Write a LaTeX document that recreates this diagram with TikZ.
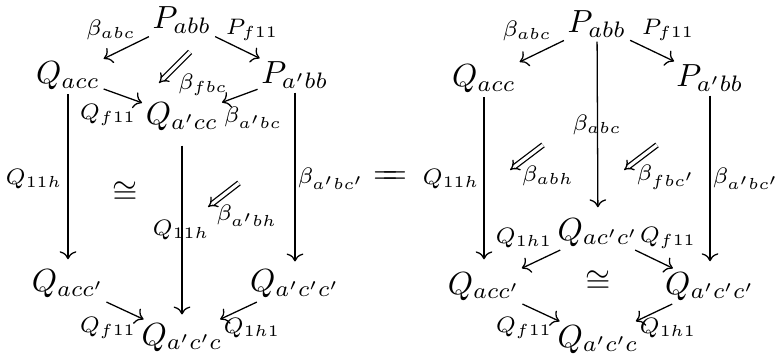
\documentclass[tikz,border=0pt]{standalone}
\usetikzlibrary{arrows.meta}
\begin{document}
\begin{tikzpicture}[x=0.3125pt,y=-0.3125pt,
  obj/.style={anchor=base,inner sep=1pt},
  lab/.style={inner sep=0pt},
  arr/.style={->,line width=0.4pt},
  cell/.style={double,double distance=1pt,-{Implies},line width=0.4pt}]
\useasboundingbox (0,0) rectangle (775,354);
% ---------- left diagram ----------
\node[obj] (Pabb)   at (182,29)  {$P_{abb}$};
\node[obj] (Qacc)   at (68,84)   {$Q_{acc}$};
\node[obj] (Papbb)  at (295,84)  {$P_{a'bb}$};
\node[obj] (Qapcc)  at (182,125) {$Q_{a'cc}$};
\node[obj] (Qaccp)  at (68,292)  {$Q_{acc'}$};
\node[obj] (Qapcpcp) at (295,292) {$Q_{a'c'c'}$};
\node[obj] (Qapcpc) at (182,345) {$Q_{a'c'c}$};

\draw[arr] (Pabb) -- (Qacc);
\draw[arr] (Pabb) -- (Papbb);
\draw[arr] (Qacc) -- (Qapcc);
\draw[arr] (Papbb) -- (Qapcc);
\draw[arr,shorten >=2.2pt] (Qacc) -- (Qaccp);
\draw[arr,shorten <=3.3pt,shorten >=1.5pt] (Qapcc) -- (Qapcpc);
\draw[arr,shorten >=1.5pt] (Papbb) -- (Qapcpcp);
\draw[arr] (Qaccp) -- (Qapcpc);
\draw[arr] (Qapcpcp) -- (Qapcpc);

\coordinate (c1s) at (190,52);  \coordinate (c1e) at (159,83);
\coordinate (c2s) at (239,183); \coordinate (c2e) at (208,207);
\draw[cell] (c1s) -- (c1e);
\draw[cell] (c2s) -- (c2e);

\node[lab] (l1)  at (111,30)  {$\scriptstyle\beta_{abc}$};
\node[lab] (l2)  at (252,30)  {$\scriptstyle P_{f11}$};
\node[lab] (l3)  at (203,85)  {$\scriptstyle\beta_{fbc}$};
\node[lab] (l4)  at (108,115) {$\scriptstyle Q_{f11}$};
\node[lab] (l5)  at (253,118) {$\scriptstyle\beta_{a'bc}$};
\node[lab] (l6)  at (34,179)  {$\scriptstyle Q_{11h}$};
\node[lab] (l7)  at (125,193) {$\cong$};
\node[lab] (l8)  at (181,230) {$\scriptstyle Q_{11h}$};
\node[lab] (l9)  at (247,216) {$\scriptstyle\beta_{a'bh}$};
\node[lab] (l10) at (331,179) {$\scriptstyle\beta_{a'bc'}$};
\node[lab] (l11) at (108,328) {$\scriptstyle Q_{f11}$};
\node[lab] (l12) at (252,328) {$\scriptstyle Q_{1h1}$};

\node[lab] (eq) at (390,178) {$\mathrel{=\mkern-9mu=}$};

% ---------- right diagram ----------
\node[obj] (Pabb2)    at (597,33)  {$P_{abb}$};
\node[obj] (Qacc2)    at (484,87)  {$Q_{acc}$};
\node[obj] (Papbb2)   at (710,87)  {$P_{a'bb}$};
\node[obj] (Qacpcp2)  at (598,240) {$Q_{ac'c'}$};
\node[obj] (Qaccp2)   at (484,294) {$Q_{acc'}$};
\node[obj] (Qapcpcp2) at (710,294) {$Q_{a'c'c'}$};
\node[obj] (Qapcpc2)  at (598,347) {$Q_{a'c'c}$};

\draw[arr] (Pabb2) -- (Qacc2);
\draw[arr] (Pabb2) -- (Papbb2);
\draw[arr,shorten >=2.2pt] (Pabb2) -- (Qacpcp2);
\draw[arr,shorten >=2.8pt] (Qacc2) -- (Qaccp2);
\draw[arr,shorten >=2.2pt] (Papbb2) -- (Qapcpcp2);
\draw[arr] (Qacpcp2) -- (Qaccp2);
\draw[arr] (Qacpcp2) -- (Qapcpcp2);
\draw[arr] (Qaccp2) -- (Qapcpc2);
\draw[arr] (Qapcpcp2) -- (Qapcpc2);

\coordinate (c3s) at (543,145); \coordinate (c3e) at (510,170);
\coordinate (c4s) at (657,145); \coordinate (c4e) at (624,170);
\draw[cell] (c3s) -- (c3e);
\draw[cell] (c4s) -- (c4e);

\node[lab] (r1)  at (527,31)  {$\scriptstyle\beta_{abc}$};
\node[lab] (r2)  at (668,30)  {$\scriptstyle P_{f11}$};
\node[lab] (r3)  at (597,125) {$\scriptstyle\beta_{abc}$};
\node[lab] (r4)  at (451,179) {$\scriptstyle Q_{11h}$};
\node[lab] (r5)  at (548,176) {$\scriptstyle\beta_{abh}$};
\node[lab] (r6)  at (666,177) {$\scriptstyle\beta_{fbc'}$};
\node[lab] (r7)  at (746,179) {$\scriptstyle\beta_{a'bc'}$};
\node[lab] (r8)  at (524,238) {$\scriptstyle Q_{1h1}$};
\node[lab] (r9)  at (668,238) {$\scriptstyle Q_{f11}$};
\node[lab] (r10) at (598,282) {$\cong$};
\node[lab] (r11) at (524,328) {$\scriptstyle Q_{f11}$};
\node[lab] (r12) at (668,328) {$\scriptstyle Q_{1h1}$};
\end{tikzpicture}
\end{document}
